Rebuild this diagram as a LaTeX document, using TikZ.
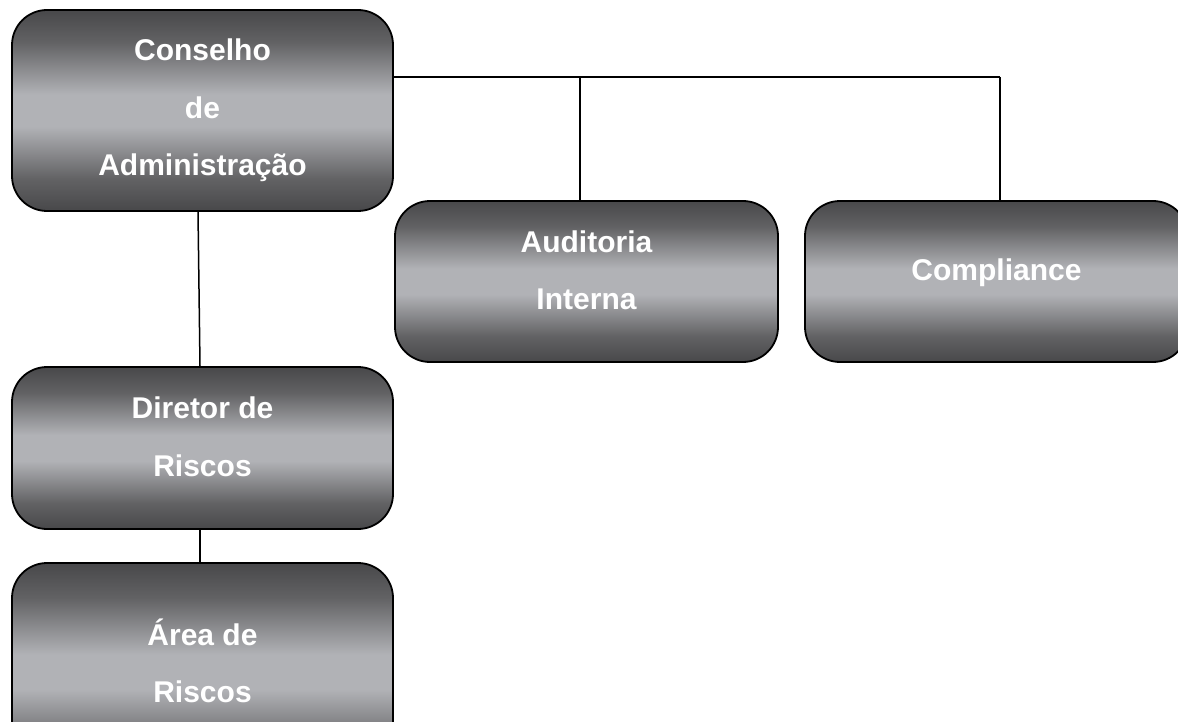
\documentclass[tikz,border=0pt]{standalone}
\usepackage{fontspec}
\setmainfont{Liberation Sans}
\definecolor{dk}{HTML}{48484A}
\definecolor{dk2}{HTML}{626264}
\definecolor{lt}{HTML}{B1B2B6}
\pgfdeclareverticalshading{boxshade}{100bp}{color(0bp)=(dk); color(25bp)=(dk); color(33bp)=(dk2); color(46bp)=(lt); color(54bp)=(lt); color(67bp)=(dk2); color(75bp)=(dk); color(100bp)=(dk)}
\begin{document}
\begin{tikzpicture}[x=1pt,y=-1pt,
  orgbox/.style={draw=black, line width=1.8pt, rounded corners=35pt, shading=boxshade, inner sep=0pt},
  txt/.style={text=white, font=\fontsize{30}{57.5}\selectfont\bfseries, align=center, inner sep=0pt},
  conn/.style={draw=black, line width=1.5pt}]
\useasboundingbox (0,0) rectangle (1178,722);
\clip (0,0) rectangle (1178,722);
\node[orgbox, minimum width=381pt, minimum height=201pt] (cons) at (202.5,110.5) {};
\node[orgbox, minimum width=383pt, minimum height=161pt] (aud) at (586.5,281.5) {};
\node[orgbox, minimum width=383pt, minimum height=161pt] (comp) at (996.5,281.5) {};
\node[orgbox, minimum width=381pt, minimum height=162pt] (dir) at (202.5,448) {};
\node[orgbox, minimum width=381pt, minimum height=218pt] (area) at (202.5,672) {};
\node[txt] (const) at (cons.center) {Conselho\\de\\Administração};
\node[txt] (audt) at ([yshift=11pt]aud.center) {Auditoria\\Interna};
\node[txt] (compt) at ([yshift=9pt]comp.center) {Compliance};
\node[txt] (dirt) at ([yshift=11pt]dir.center) {Diretor de\\Riscos};
\node[txt] (areat) at ([yshift=11pt]area.center) {Área de\\Riscos};
\coordinate (j0) at (cons.east |- 0,77);
\coordinate (j1) at (580,77);
\coordinate (j2) at (1000,77);
\draw[conn] (j0) -- (j2);
\draw[conn] (j1) -- (j1 |- aud.north);
\draw[conn] (j2) -- (j2 |- comp.north);
\draw[conn] ([xshift=-4.5pt]cons.south) -- ([xshift=-2.5pt]dir.north);
\draw[conn] ([xshift=-2.5pt]dir.south) -- ([xshift=-2.5pt]area.north);
\end{tikzpicture}
\end{document}
